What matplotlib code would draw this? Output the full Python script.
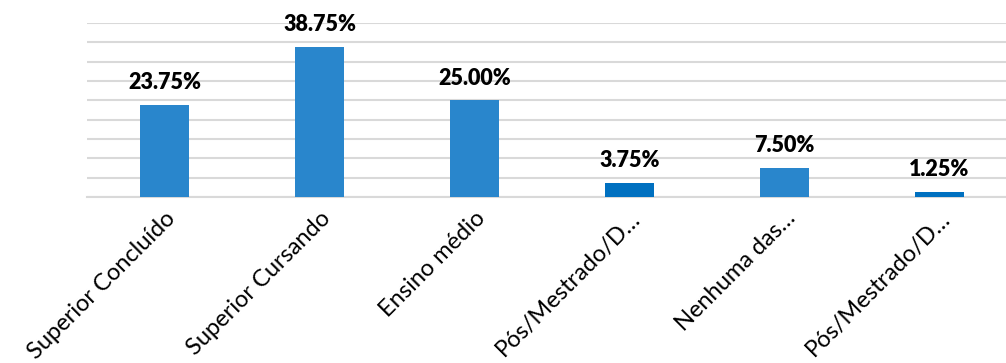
import matplotlib
matplotlib.use('Agg')
import matplotlib.pyplot as plt

# --- Données ---
categories = ['Superior Concluído', 'Superior Cursando', 'Ensino médio',
              'Pós/Mestrado/D…', 'Nenhuma das…', 'Pós/Mestrado/D…']
valeurs = [23.75, 38.75, 25.00, 3.75, 7.50, 1.25]
etiquettes = ['23.75%', '38.75%', '25.00%', '3.75%', '7.50%', '1.25%']
couleurs = ['#2986CC', '#2986CC', '#2986CC', '#0070C0', '#2986CC', '#0070C0']
graduations = [0, 5, 10, 15, 20, 25, 30, 35, 40, 45]

# --- Figure ---
fig = plt.figure(figsize=(10.06, 3.63), dpi=100)
ax = fig.add_axes([87 / 1006, 166 / 363, 930 / 1006, 174 / 363])

x = list(range(len(categories)))
ax.bar(x, valeurs, width=0.316, color=couleurs, zorder=3)

for xi, v, lab in zip(x, valeurs, etiquettes):
    ax.annotate(lab, (xi, v), xytext=(0, 8.5), textcoords='offset points',
                ha='center', va='bottom', fontsize=15.5, fontweight='heavy',
                family='Lato', color='#000000')

ax.set_xlim(-0.5, len(categories) - 0.5)
ax.set_ylim(0, 45)
ax.set_yticks(graduations)
ax.yaxis.grid(True, color='#D9D9D9', linewidth=1.5, zorder=0)
ax.tick_params(axis='y', left=False, labelleft=False)
ax.tick_params(axis='x', bottom=False, pad=4)

ax.set_xticks(x)
ax.set_xticklabels(categories, rotation=45, ha='right', va='top',
                   rotation_mode='anchor', fontsize=17, family='Lato')

for s in ['top', 'right', 'left']:
    ax.spines[s].set_visible(False)
ax.spines['bottom'].set_color('#D9D9D9')
ax.spines['bottom'].set_linewidth(1.5)

fig.savefig('out.png', dpi=100)
